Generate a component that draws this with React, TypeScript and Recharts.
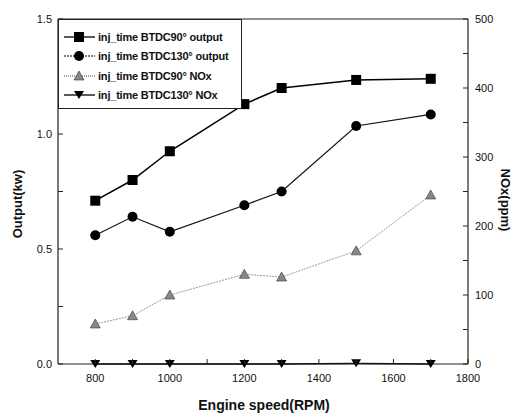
import React from 'react';
import {
  ComposedChart,
  Line,
  XAxis,
  YAxis,
  Legend,
  ReferenceLine,
  Label
} from 'recharts';

const rpm = [800, 900, 1000, 1200, 1300, 1500, 1700];
const output90 = [0.71, 0.8, 0.925, 1.13, 1.2, 1.235, 1.24];
const output130 = [0.56, 0.64, 0.575, 0.69, 0.75, 1.035, 1.085];
const nox90 = [58, 70, 100, 130, 126, 164, 245];
const nox130 = [0, 0, 0, 0, 0, 1, 0];

const xTicks = [800, 900, 1000, 1100, 1200, 1300, 1400, 1500, 1600, 1700, 1800];
const xLabels = [800, 1000, 1200, 1400, 1600, 1800];
const leftTicks = [0, 0.25, 0.5, 0.75, 1.0, 1.25, 1.5];
const leftLabels = [0, 0.5, 1.0, 1.5];
const rightTicks = [0, 50, 100, 150, 200, 250, 300, 350, 400, 450, 500];
const rightLabels = [0, 100, 200, 300, 400, 500];

const seriesNames = [
  'inj_time BTDC90° output',
  'inj_time BTDC130° output',
  'inj_time BTDC90° NOx',
  'inj_time BTDC130° NOx'
];

const data = rpm.map((r, i) => ({
  rpm: r,
  o90: output90[i],
  o130: output130[i],
  n90: nox90[i],
  n130: nox130[i]
}));

const AXIS = '#222';
const FONT = 'Liberation Sans, Arial, sans-serif';

// marker shapes
const Marker = ({ kind, cx, cy }: { kind: string; cx: number; cy: number }) => {
  if (cx == null || cy == null) return null;
  switch (kind) {
    case 'square':
      return <rect x={cx - 5} y={cy - 5} width={10} height={10} fill="#000" />;
    case 'circle':
      return <circle cx={cx} cy={cy} r={5} fill="#000" />;
    case 'up':
      return (
        <polygon
          points={`${cx},${cy - 5} ${cx - 5},${cy + 4} ${cx + 5},${cy + 4}`}
          fill="#888"
          stroke="#333"
          strokeWidth={0.6}
        />
      );
    default:
      return (
        <polygon
          points={`${cx - 5},${cy - 4} ${cx + 5},${cy - 4} ${cx},${cy + 4}`}
          fill="#000"
        />
      );
  }
};

const dotFor = (kind: string) => (props: any) => (
  <Marker key={`${kind}-${props.index}`} kind={kind} cx={props.cx} cy={props.cy} />
);

const fmtLeft = (v: number) => v.toFixed(1);

const XTick = (props: any) => {
  const { x, y, payload } = props;
  const v = payload.value;
  return (
    <g>
      <line x1={x} y1={y} x2={x} y2={y - 5} stroke={AXIS} />
      {xLabels.includes(v) && (
        <text x={x} y={y + 18} textAnchor="middle" fontSize={11} fontFamily={FONT} fill="#111">
          {v}
        </text>
      )}
    </g>
  );
};

const LeftTick = (props: any) => {
  const { x, y, payload } = props;
  const v = payload.value;
  return (
    <g>
      <line x1={x} y1={y} x2={x + 5} y2={y} stroke={AXIS} />
      {leftLabels.includes(v) && (
        <text x={x - 6} y={y + 4} textAnchor="end" fontSize={11} fontFamily={FONT} fill="#111">
          {fmtLeft(v)}
        </text>
      )}
    </g>
  );
};

const RightTick = (props: any) => {
  const { x, y, payload } = props;
  const v = payload.value;
  return (
    <g>
      <line x1={x} y1={y} x2={x - 5} y2={y} stroke={AXIS} />
      {rightLabels.includes(v) && (
        <text x={x + 7} y={y + 4} textAnchor="start" fontSize={11} fontFamily={FONT} fill="#111">
          {v}
        </text>
      )}
    </g>
  );
};

const legendItems = [
  { name: seriesNames[0], kind: 'square', stroke: '#000', dash: undefined },
  { name: seriesNames[1], kind: 'circle', stroke: '#555', dash: '2 1' },
  { name: seriesNames[2], kind: 'up', stroke: '#888', dash: '1 1' },
  { name: seriesNames[3], kind: 'down', stroke: '#000', dash: undefined }
];

const LegendBox = () => (
  <div
    style={{
      border: `1px solid ${AXIS}`,
      background: '#fff',
      width: 184,
      height: 90,
      boxSizing: 'border-box',
      paddingTop: 7,
      paddingLeft: 4
    }}
  >
    {legendItems.map((it) => (
      <div key={it.name} style={{ display: 'flex', alignItems: 'center', height: 19.5 }}>
        <svg width={34} height={12}>
          <line x1={1} y1={6} x2={32} y2={6} stroke={it.stroke} strokeWidth={1.3} strokeDasharray={it.dash} />
          <Marker kind={it.kind} cx={16} cy={6} />
        </svg>
        <span
          style={{
            fontFamily: FONT,
            fontWeight: 'bold',
            fontSize: 11,
            marginLeft: 1,
            color: '#111',
            whiteSpace: 'nowrap',
            letterSpacing: -0.2
          }}
        >
          {it.name}
        </span>
      </div>
    ))}
  </div>
);

const titleStyle = { fontFamily: FONT, fontWeight: 'bold' as const, fill: '#111' };

export default function App() {
  return (
    <div style={{ position: 'absolute', left: 0, top: 0, width: 512, height: 414, background: '#fff' }}>
      <ComposedChart width={512} height={414} data={data} margin={{ top: 19, right: 0, bottom: 0, left: 0 }}>
        <XAxis
          dataKey="rpm"
          type="number"
          domain={[700, 1800]}
          ticks={xTicks}
          interval={0}
          height={50}
          tickSize={0}
          tickMargin={0}
          tickLine={false}
          axisLine={{ stroke: AXIS, strokeWidth: 1.2 }}
          tick={<XTick />}
        >
          <Label
            content={() => (
              <text x={264} y={410} textAnchor="middle" fontSize={14} {...titleStyle}>
                Engine speed(RPM)
              </text>
            )}
          />
        </XAxis>
        <YAxis
          yAxisId="left"
          type="number"
          domain={[0, 1.5]}
          ticks={leftTicks}
          interval={0}
          width={58}
          tickSize={0}
          tickMargin={0}
          tickLine={false}
          axisLine={{ stroke: AXIS, strokeWidth: 1.2 }}
          tick={<LeftTick />}
        >
          <Label
            content={() => (
              <text
                x={0}
                y={0}
                transform="translate(22,204) rotate(-90)"
                textAnchor="middle"
                fontSize={13}
                {...titleStyle}
              >
                Output(kw)
              </text>
            )}
          />
        </YAxis>
        <YAxis
          yAxisId="right"
          orientation="right"
          type="number"
          domain={[0, 500]}
          ticks={rightTicks}
          interval={0}
          width={44}
          tickSize={0}
          tickMargin={0}
          tickLine={false}
          axisLine={{ stroke: AXIS, strokeWidth: 1.2 }}
          tick={<RightTick />}
        >
          <Label
            content={() => (
              <text
                x={0}
                y={0}
                transform="translate(501,200) rotate(90)"
                textAnchor="middle"
                fontSize={13}
                {...titleStyle}
              >
                NOx(ppm)
              </text>
            )}
          />
        </YAxis>
        <ReferenceLine yAxisId="left" y={1.5} stroke={AXIS} strokeWidth={1.2} />
        <Legend
          layout="vertical"
          align="center"
          verticalAlign="middle"
          wrapperStyle={{ position: 'absolute', top: 19, left: 58, width: 'auto' }}
          content={() => <LegendBox />}
        />
        <Line
          yAxisId="right"
          dataKey="n130"
          name={seriesNames[3]}
          stroke="#000"
          strokeWidth={1.3}
          dot={dotFor('down')}
          activeDot={false}
          isAnimationActive={false}
        />
        <Line
          yAxisId="right"
          dataKey="n90"
          name={seriesNames[2]}
          stroke="#999"
          strokeWidth={1}
          strokeDasharray="2 1"
          dot={dotFor('up')}
          activeDot={false}
          isAnimationActive={false}
        />
        <Line
          yAxisId="left"
          dataKey="o130"
          name={seriesNames[1]}
          stroke="#111"
          strokeWidth={1.2}
          dot={dotFor('circle')}
          activeDot={false}
          isAnimationActive={false}
        />
        <Line
          yAxisId="left"
          dataKey="o90"
          name={seriesNames[0]}
          stroke="#000"
          strokeWidth={1.5}
          dot={dotFor('square')}
          activeDot={false}
          isAnimationActive={false}
        />
      </ComposedChart>
    </div>
  );
}
